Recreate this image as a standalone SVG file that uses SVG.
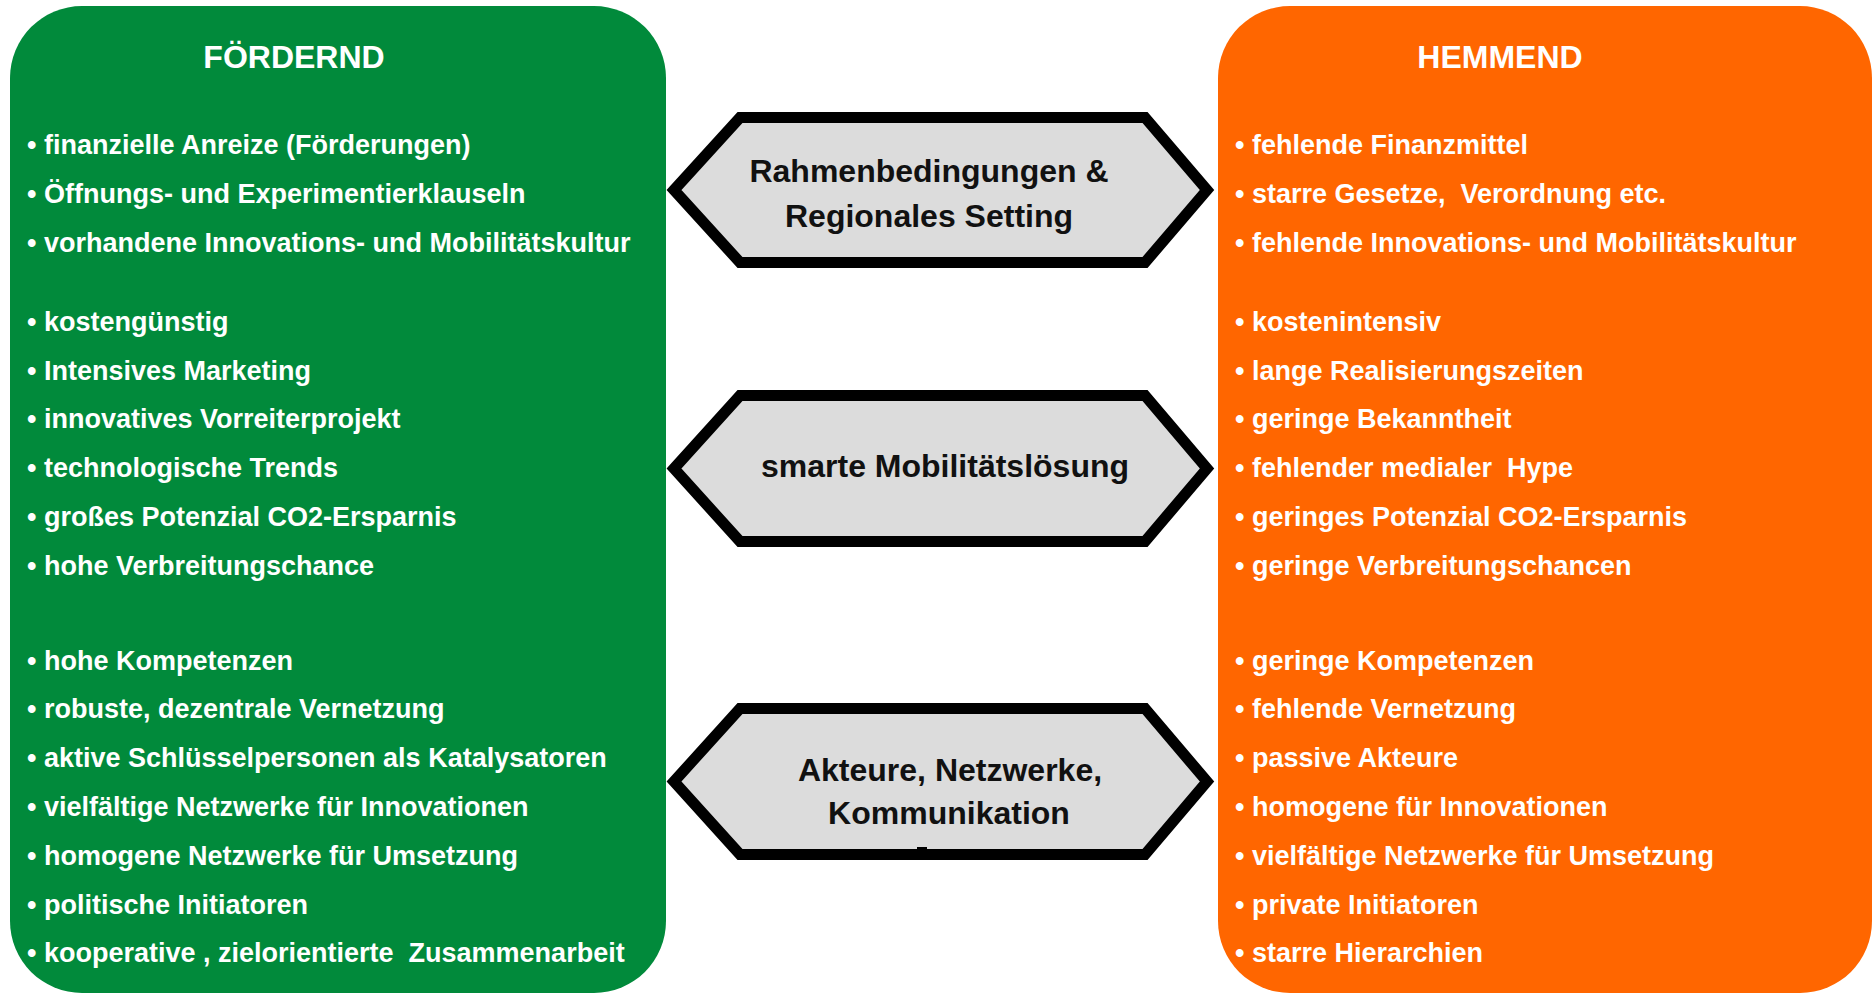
<svg xmlns="http://www.w3.org/2000/svg" width="1872" height="994" viewBox="0 0 1872 994">
  <style>
    .panel-g { fill: #018A3B; }
    .panel-o { fill: #FF6600; }
    .title { font-family: "Liberation Sans", Arial, sans-serif; font-weight: bold; font-size: 32px; fill: #FFFFFF; text-anchor: middle; }
    .item { font-family: "Liberation Sans", Arial, sans-serif; font-weight: bold; font-size: 27px; fill: #FFFFFF; white-space: pre; }
    .hex { fill: #DCDCDC; stroke: #000000; stroke-width: 11; stroke-linejoin: miter; stroke-miterlimit: 10; }
    .hext { font-family: "Liberation Sans", Arial, sans-serif; font-weight: bold; font-size: 32px; fill: #111111; text-anchor: middle; }
  </style>
  <rect width="1872" height="994" fill="#FFFFFF"/>

  <g id="foerdernd">
    <rect class="panel-g" x="10" y="6" width="656" height="987" rx="72" ry="72"/>
    <text class="title" x="294" y="68">FÖRDERND</text>
    <g class="item">
      <text class="item" x="27" y="154">• finanzielle Anreize (Förderungen)</text>
      <text class="item" x="27" y="203">• Öffnungs- und Experimentierklauseln</text>
      <text class="item" x="27" y="252">• vorhandene Innovations- und Mobilitätskultur</text>
      <text class="item" x="27" y="331">• kostengünstig</text>
      <text class="item" x="27" y="380">• Intensives Marketing</text>
      <text class="item" x="27" y="428">• innovatives Vorreiterprojekt</text>
      <text class="item" x="27" y="477">• technologische Trends</text>
      <text class="item" x="27" y="526">• großes Potenzial CO2-Ersparnis</text>
      <text class="item" x="27" y="575">• hohe Verbreitungschance</text>
      <text class="item" x="27" y="670">• hohe Kompetenzen</text>
      <text class="item" x="27" y="718">• robuste, dezentrale Vernetzung</text>
      <text class="item" x="27" y="767">• aktive Schlüsselpersonen als Katalysatoren</text>
      <text class="item" x="27" y="816">• vielfältige Netzwerke für Innovationen</text>
      <text class="item" x="27" y="865">• homogene Netzwerke für Umsetzung</text>
      <text class="item" x="27" y="914">• politische Initiatoren</text>
      <text class="item" x="27" y="962">• kooperative , zielorientierte  Zusammenarbeit</text>
    </g>
  </g>

  <g id="hemmend">
    <rect class="panel-o" x="1218" y="6" width="654" height="987" rx="72" ry="72"/>
    <text class="title" x="1500" y="68">HEMMEND</text>
    <g>
      <text class="item" x="1235" y="154">• fehlende Finanzmittel</text>
      <text class="item" x="1235" y="203">• starre Gesetze,  Verordnung etc.</text>
      <text class="item" x="1235" y="252">• fehlende Innovations- und Mobilitätskultur</text>
      <text class="item" x="1235" y="331">• kostenintensiv</text>
      <text class="item" x="1235" y="380">• lange Realisierungszeiten</text>
      <text class="item" x="1235" y="428">• geringe Bekanntheit</text>
      <text class="item" x="1235" y="477">• fehlender medialer  Hype</text>
      <text class="item" x="1235" y="526">• geringes Potenzial CO2-Ersparnis</text>
      <text class="item" x="1235" y="575">• geringe Verbreitungschancen</text>
      <text class="item" x="1235" y="670">• geringe Kompetenzen</text>
      <text class="item" x="1235" y="718">• fehlende Vernetzung</text>
      <text class="item" x="1235" y="767">• passive Akteure</text>
      <text class="item" x="1235" y="816">• homogene für Innovationen</text>
      <text class="item" x="1235" y="865">• vielfältige Netzwerke für Umsetzung</text>
      <text class="item" x="1235" y="914">• private Initiatoren</text>
      <text class="item" x="1235" y="962">• starre Hierarchien</text>
    </g>
  </g>

  <g id="hex-rahmen">
    <path class="hex" d="M674,190 L740,117.5 L1145,117.5 L1207,190 L1145,262.5 L740,262.5 Z"/>
    <text class="hext" x="929" y="182">Rahmenbedingungen &amp;</text>
    <text class="hext" x="929" y="227">Regionales Setting</text>
  </g>

  <g id="hex-loesung">
    <path class="hex" d="M674,468.5 L740,395.5 L1145,395.5 L1207,468.5 L1145,541.5 L740,541.5 Z"/>
    <text class="hext" x="945" y="477">smarte Mobilitätslösung</text>
  </g>

  <g id="hex-akteure">
    <path class="hex" d="M674,781.5 L740,708.5 L1145,708.5 L1207,781.5 L1145,854.5 L740,854.5 Z"/>
    <text class="hext" x="950" y="781">Akteure, Netzwerke,</text>
    <text class="hext" x="949" y="824">Kommunikation</text>
    <rect x="917" y="847" width="10" height="5" fill="#000000"/>
  </g>

  <g id="connectors"/>
</svg>
